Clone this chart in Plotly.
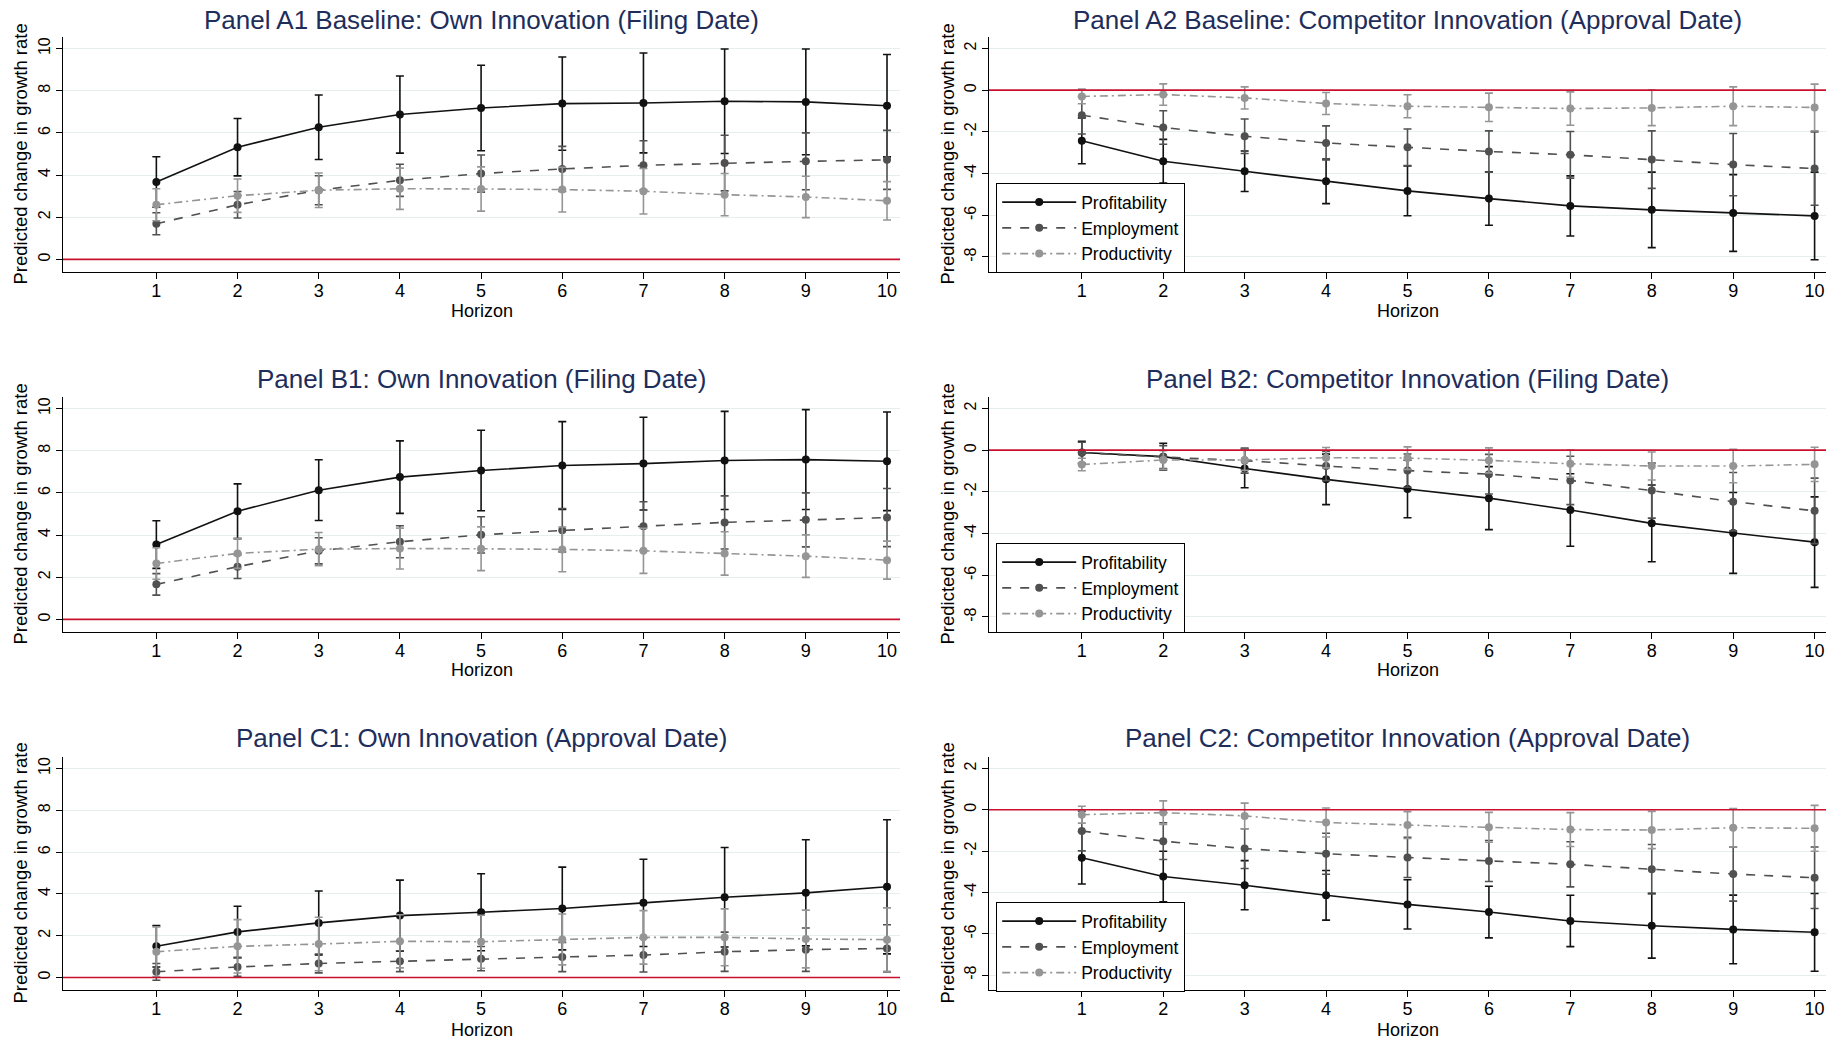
import plotly.graph_objects as go

# ---------------- data ----------------
horizon = [1, 2, 3, 4, 5, 6, 7, 8, 9, 10]
series_names = ["Profitability", "Employment", "Productivity"]

A1_prof = [3.67, 5.32, 6.27, 6.87, 7.18, 7.39, 7.42, 7.50, 7.47, 7.29]
A1_prof_ci = [1.20, 1.36, 1.53, 1.83, 2.03, 2.21, 2.37, 2.48, 2.51, 2.43]
A1_emp = [1.69, 2.59, 3.28, 3.75, 4.07, 4.29, 4.46, 4.57, 4.65, 4.72]
A1_emp_ci = [0.52, 0.63, 0.69, 0.76, 0.88, 1.07, 1.17, 1.32, 1.35, 1.40]
A1_prod = [2.59, 3.02, 3.28, 3.35, 3.34, 3.31, 3.23, 3.07, 2.96, 2.78]
A1_prod_ci = [0.76, 0.79, 0.82, 0.98, 1.05, 1.06, 1.08, 1.00, 0.98, 0.91]

A2_prof = [-2.43, -3.41, -3.89, -4.37, -4.83, -5.20, -5.55, -5.74, -5.89, -6.03]
A2_prof_ci = [1.10, 1.05, 0.97, 1.07, 1.19, 1.28, 1.44, 1.81, 1.84, 2.10]
A2_emp = [-1.20, -1.79, -2.21, -2.53, -2.74, -2.94, -3.10, -3.33, -3.57, -3.76]
A2_emp_ci = [0.90, 0.80, 0.83, 0.82, 0.88, 0.99, 1.12, 1.38, 1.49, 1.76]
A2_prod = [-0.30, -0.21, -0.37, -0.64, -0.77, -0.82, -0.88, -0.85, -0.77, -0.83]
A2_prod_ci = [0.35, 0.51, 0.53, 0.53, 0.55, 0.68, 0.80, 0.85, 0.93, 1.12]

B1_prof = [3.55, 5.13, 6.13, 6.75, 7.06, 7.30, 7.39, 7.54, 7.58, 7.50]
B1_prof_ci = [1.13, 1.30, 1.44, 1.72, 1.91, 2.08, 2.20, 2.33, 2.37, 2.34]
B1_emp = [1.66, 2.50, 3.25, 3.68, 4.01, 4.23, 4.42, 4.60, 4.72, 4.83]
B1_emp_ci = [0.51, 0.56, 0.62, 0.76, 0.86, 1.03, 1.16, 1.26, 1.28, 1.38]
B1_prod = [2.65, 3.13, 3.33, 3.36, 3.35, 3.32, 3.25, 3.13, 3.00, 2.81]
B1_prod_ci = [0.75, 0.71, 0.79, 0.97, 1.04, 1.06, 1.07, 1.03, 1.01, 0.90]

B2_prof = [-0.11, -0.31, -0.88, -1.40, -1.86, -2.30, -2.87, -3.51, -3.97, -4.41]
B2_prof_ci = [0.54, 0.64, 0.92, 1.21, 1.38, 1.51, 1.74, 1.84, 1.94, 2.17]
B2_emp = [-0.12, -0.33, -0.50, -0.76, -0.98, -1.15, -1.45, -1.94, -2.47, -2.91]
B2_emp_ci = [0.50, 0.55, 0.60, 0.70, 0.80, 0.95, 1.16, 1.32, 1.40, 1.57]
B2_prod = [-0.69, -0.47, -0.47, -0.36, -0.38, -0.49, -0.65, -0.76, -0.76, -0.68]
B2_prod_ci = [0.30, 0.45, 0.50, 0.49, 0.54, 0.60, 0.65, 0.67, 0.80, 0.82]

C1_prof = [1.49, 2.18, 2.61, 2.96, 3.12, 3.30, 3.57, 3.84, 4.05, 4.34]
C1_prof_ci = [0.99, 1.23, 1.53, 1.70, 1.84, 1.98, 2.09, 2.38, 2.54, 3.21]
C1_emp = [0.27, 0.50, 0.67, 0.78, 0.90, 0.98, 1.07, 1.23, 1.33, 1.39]
C1_emp_ci = [0.40, 0.45, 0.45, 0.50, 0.58, 0.70, 0.81, 0.94, 1.04, 1.13]
C1_prod = [1.23, 1.49, 1.60, 1.73, 1.71, 1.82, 1.92, 1.92, 1.84, 1.81]
C1_prod_ci = [1.19, 1.28, 1.28, 1.27, 1.27, 1.22, 1.28, 1.36, 1.38, 1.52]

C2_prof = [-2.32, -3.23, -3.65, -4.14, -4.58, -4.95, -5.38, -5.61, -5.79, -5.93]
C2_prof_ci = [1.27, 1.22, 1.19, 1.20, 1.19, 1.25, 1.24, 1.57, 1.66, 1.88]
C2_emp = [-1.03, -1.52, -1.88, -2.13, -2.31, -2.48, -2.64, -2.88, -3.11, -3.29]
C2_emp_ci = [0.96, 0.89, 0.96, 0.99, 0.97, 0.99, 1.09, 1.20, 1.31, 1.49]
C2_prod = [-0.24, -0.14, -0.30, -0.62, -0.74, -0.85, -0.96, -0.98, -0.87, -0.90]
C2_prod_ci = [0.41, 0.57, 0.62, 0.70, 0.65, 0.72, 0.82, 0.90, 0.93, 1.11]

titles = [
    "Panel A1 Baseline: Own Innovation (Filing Date)",
    "Panel A2 Baseline: Competitor Innovation (Approval Date)",
    "Panel B1: Own Innovation (Filing Date)",
    "Panel B2: Competitor Innovation (Filing Date)",
    "Panel C1: Own Innovation (Approval Date)",
    "Panel C2: Competitor Innovation (Approval Date)",
]
y_title = "Predicted change in growth rate"
x_title = "Horizon"
left_ticks = [0, 2, 4, 6, 8, 10]
right_ticks = [-8, -6, -4, -2, 0, 2]

# ---------------- layout geometry (pixels) ----------------
W, H = 1839, 1042
FONT = "Arial, 'Liberation Sans', Helvetica, sans-serif"
col_px = [(63, 900), (989, 1826)]
row_px = [(37, 272), (397, 632), (757, 990)]
title_y_px = [20, 379, 738]
horizon_y_px = [311, 670, 1030]
ytitle_x_px = [20, 947]
legend_top_px = [183, 543, 902]

colors = ["#111111", "#505050", "#959595"]
dashes = ["solid", "dash", "8px,4px,2px,4px"]

panels = [
    (A1_prof, A1_prof_ci, A1_emp, A1_emp_ci, A1_prod, A1_prod_ci),
    (A2_prof, A2_prof_ci, A2_emp, A2_emp_ci, A2_prod, A2_prod_ci),
    (B1_prof, B1_prof_ci, B1_emp, B1_emp_ci, B1_prod, B1_prod_ci),
    (B2_prof, B2_prof_ci, B2_emp, B2_emp_ci, B2_prod, B2_prod_ci),
    (C1_prof, C1_prof_ci, C1_emp, C1_emp_ci, C1_prod, C1_prod_ci),
    (C2_prof, C2_prof_ci, C2_emp, C2_emp_ci, C2_prod, C2_prod_ci),
]

fig = go.Figure()
annotations = []
shapes = []
layout = {}

for i, pdata in enumerate(panels):
    row, col = divmod(i, 2)
    ax = "" if i == 0 else str(i + 1)
    xref, yref = "x" + ax, "y" + ax
    legend_name = "legend" if row == 0 else "legend" + str(row + 1)
    for s in range(3):
        vals, ci = pdata[2 * s], pdata[2 * s + 1]
        fig.add_trace(go.Scatter(
            x=horizon, y=vals, name=series_names[s],
            mode="lines+markers",
            line=dict(color=colors[s], width=1.6, dash=dashes[s]),
            marker=dict(color=colors[s], size=8, symbol="circle"),
            error_y=dict(type="data", array=ci, visible=True,
                         color=colors[s], thickness=1.6, width=4),
            xaxis=xref, yaxis=yref,
            showlegend=(col == 1), legend=legend_name,
        ))

    x0, x1 = col_px[col]
    top, bot = row_px[row]
    yr = [-0.6, 10.55] if col == 0 else [-8.72, 2.55]
    xr = [-0.15, 10.16] if col == 0 else [-0.14, 10.14]
    ticks = left_ticks if col == 0 else right_ticks
    layout["xaxis" + ax] = dict(
        domain=[x0 / W, x1 / W], anchor=yref, range=xr,
        tickvals=horizon, ticks="outside", ticklen=6, tickcolor="black",
        ticklabelstandoff=-4,
        showline=True, linecolor="black", linewidth=1.2, showgrid=False,
        zeroline=False, tickfont=dict(size=18, color="black", family=FONT),
        automargin=False, fixedrange=True,
    )
    layout["yaxis" + ax] = dict(
        domain=[1 - bot / H, 1 - top / H], anchor=xref, range=yr,
        tickvals=ticks, ticktext=[str(t) for t in ticks],
        ticks="outside", ticklen=6, tickcolor="black",
        tickangle=-90, showline=True, linecolor="black", linewidth=1.2,
        showgrid=True, gridcolor="#E6EEF0", gridwidth=1.2, zeroline=False,
        tickfont=dict(size=16, color="black", family=FONT),
        automargin=False, fixedrange=True,
    )
    shapes.append(dict(type="line", xref=xref + " domain", yref=yref,
                       x0=0, x1=1, y0=0, y1=0, layer="above",
                       line=dict(color="#C8102E", width=1.6)))
    annotations.append(dict(text=titles[i], xref="paper", yref="paper",
                            x=(x0 + x1) / 2 / W, y=1 - title_y_px[row] / H,
                            xanchor="center", yanchor="middle", showarrow=False,
                            font=dict(size=26, color="#1E2D5A", family=FONT)))
    annotations.append(dict(text=x_title, xref="paper", yref="paper",
                            x=(x0 + x1) / 2 / W, y=1 - horizon_y_px[row] / H,
                            xanchor="center", yanchor="middle", showarrow=False,
                            font=dict(size=18, color="black", family=FONT)))
    annotations.append(dict(text=y_title, xref="paper", yref="paper",
                            x=ytitle_x_px[col] / W, y=1 - (top + bot) / 2 / H,
                            xanchor="center", yanchor="middle", showarrow=False,
                            textangle=-90,
                            font=dict(size=18.5, color="black", family=FONT)))

for r in range(3):
    name = "legend" if r == 0 else "legend" + str(r + 1)
    layout[name] = dict(
        x=996 / W, y=1 - legend_top_px[r] / H, xanchor="left", yanchor="top",
        bgcolor="white", bordercolor="black", borderwidth=1.2,
        font=dict(size=17.5, color="black", family=FONT),
        itemwidth=74, tracegroupgap=0,
    )

fig.update_layout(
    width=W, height=H, margin=dict(l=0, r=0, t=0, b=0),
    paper_bgcolor="white", plot_bgcolor="white",
    font=dict(family=FONT, color="black"),
    annotations=annotations, shapes=shapes, **layout,
)

fig.write_html("out.html", config={"displayModeBar": False},
               post_script="document.body.style.margin='0';document.body.style.overflow='hidden';")
